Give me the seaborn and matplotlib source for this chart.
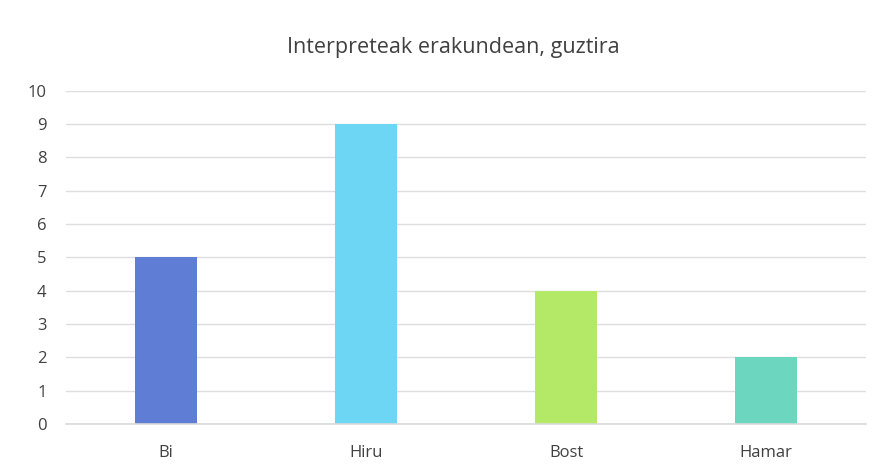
import matplotlib
matplotlib.use("Agg")
import matplotlib.pyplot as plt
import seaborn as sns
import pandas as pd

categories = ["Bi", "Hiru", "Bost", "Hamar"]
values = [5, 9, 4, 2]
colors = ["#5f7dd4", "#6dd6f5", "#b3e966", "#6dd6bf"]
y_ticks = list(range(0, 11))

sns.set_theme(style="white")
plt.rcParams["font.family"] = ["Open Sans", "DejaVu Sans"]

df = pd.DataFrame({"kategoria": categories, "kopurua": values})

fig = plt.figure(figsize=(8.83, 4.68), dpi=100)
ax = fig.add_axes([0.0747, 0.094, 0.9063, 0.712])

sns.barplot(data=df, x="kategoria", y="kopurua", hue="kategoria",
            palette=colors, width=0.31, legend=False, ax=ax,
            edgecolor="none", saturation=1)

ax.set_ylim(0, 10)
ax.set_xlim(-0.5, 3.5)
ax.set_yticks(y_ticks)
ax.set_yticklabels([str(t) for t in y_ticks])
ax.yaxis.grid(True, color="#dedede", linewidth=1)
ax.set_axisbelow(True)
for side in ["top", "right", "left"]:
    ax.spines[side].set_visible(False)
ax.spines["bottom"].set_color("#d9d9d9")
ax.spines["bottom"].set_linewidth(1.2)
ax.tick_params(axis="both", length=0, labelsize=12, labelcolor="#404040")
ax.tick_params(axis="y", pad=14)
ax.tick_params(axis="x", pad=15)
ax.set_xlabel("")
ax.set_ylabel("")
ax.set_title("Interpreteak erakundean, guztira", fontsize=15.5,
             color="#404040", pad=27, x=0.484)

fig.savefig("out.png", dpi=100, facecolor="white")
